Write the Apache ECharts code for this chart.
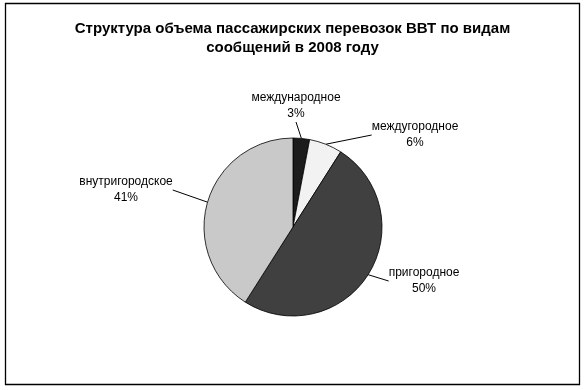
<!DOCTYPE html>
<html>
<head>
<meta charset="utf-8">
<script src="https://cdn.jsdelivr.net/npm/echarts@6/dist/echarts.min.js"></script>
<style>
  html, body { margin: 0; padding: 0; background: #fff; }
  #chart { width: 585px; height: 390px; }
</style>
</head>
<body>
<div id="chart"></div>
<script>
// Shares of inland water passenger transport by service type, 2008 (%)
const categories = ['международное', 'междугородное', 'пригородное', 'внутригородское'];
const shares = [3, 6, 50, 41];
const sliceColors = ['#1c1c1c', '#f2f2f2', '#404040', '#c9c9c9'];

// Label anchor points (centre of the two-line label block)
const labelSpots = [
  { x: 296, y: 106 },
  { x: 415, y: 135 },
  { x: 424, y: 281 },
  { x: 126, y: 190 }
];

const chart = echarts.init(document.getElementById('chart'), null, { renderer: 'canvas' });

chart.setOption({
  backgroundColor: '#ffffff',
  animation: false,
  title: {
    text: 'Структура объема пассажирских перевозок ВВТ по видам\nсообщений в 2008 году',
    left: 'center',
    top: 14,
    textStyle: {
      fontFamily: 'Liberation Sans, Arial, sans-serif',
      fontSize: 15,
      fontWeight: 'bold',
      color: '#000',
      lineHeight: 19
    }
  },
  graphic: [{
    type: 'rect',
    shape: { x: 5.5, y: 3.5, width: 574, height: 381 },
    style: { fill: 'none', stroke: '#000', lineWidth: 1.3 },
    silent: true
  }],
  series: [{
    type: 'pie',
    center: [293, 227],
    radius: 89,
    startAngle: 90,
    clockwise: true,
    data: categories.map((name, i) => ({
      name,
      value: shares[i],
      itemStyle: { color: sliceColors[i] }
    })),
    itemStyle: { borderColor: '#000', borderWidth: 0.8 },
    label: {
      show: true,
      position: 'outside',
      formatter: p => p.name + '\n' + p.value + '%',
      fontFamily: 'Liberation Sans, Arial, sans-serif',
      fontSize: 12,
      lineHeight: 16,
      color: '#000',
      align: 'center'
    },
    labelLine: {
      show: true,
      length: 1,
      length2: 0,
      lineStyle: { color: '#000', width: 1 }
    },
    labelLayout: params => {
      const s = labelSpots[params.dataIndex];
      return {
        x: s.x,
        y: s.y,
        align: 'center',
        verticalAlign: 'middle'
      };
    }
  }]
});
</script>
</body>
</html>
